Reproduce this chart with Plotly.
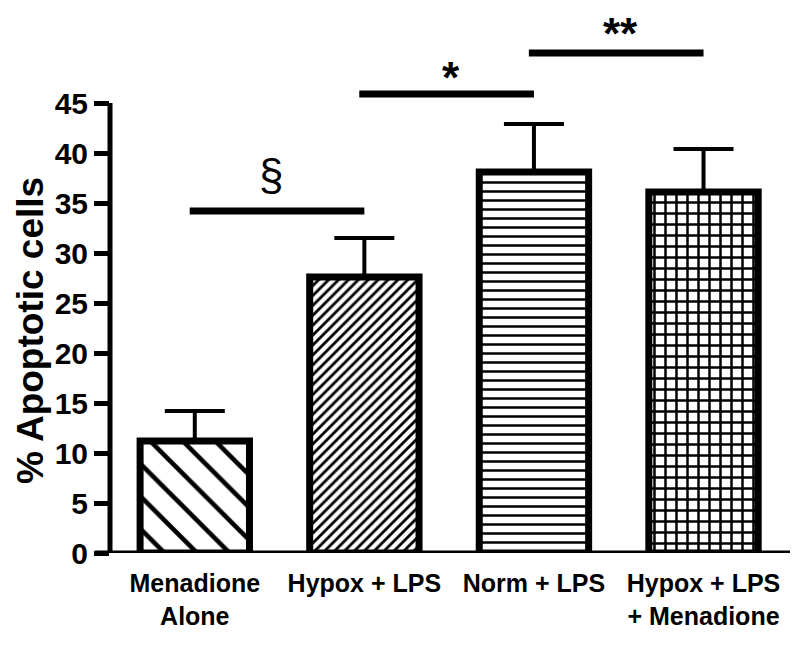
import plotly.graph_objects as go

# data
groups = ["Menadione<br>Alone", "Hypox + LPS", "Norm + LPS", "Hypox + LPS<br>+ Menadione"]
apoptotic = [11.2, 27.6, 38.1, 36.1]
sem = [3.0, 3.9, 4.8, 4.3]
hatch = ["\\", "/", "-", "+"]
hatch_size = [23, 7, 9, 11]
hatch_solid = [0.2, 0.4, 0.28, 0.4]

# significance brackets: from bar, to bar, line height, label, label height
sig_from = [0, 1, 2]
sig_to = [1, 2, 3]
sig_y = [34.2, 45.9, 50.0]
sig_text = ["§", "*", "**"]
sig_label_y = [37.9, 47.5, 52.0]

yticks = list(range(0, 50, 5))
YTOP = 51

FONT = "Liberation Sans, Arial, sans-serif"

fig = go.Figure()
x = list(range(len(groups)))
fig.add_trace(go.Bar(
    x=x, y=apoptotic, width=0.645,
    marker=dict(
        color="white",
        line=dict(color="black", width=7),
        pattern=dict(shape=hatch, size=hatch_size, solidity=hatch_solid,
                     fgcolor="black", bgcolor="white", fillmode="replace"),
    ),
    error_y=dict(type="data", symmetric=False, array=sem, arrayminus=[0]*len(sem),
                 color="black", thickness=4, width=30),
    showlegend=False,
))

shapes = [
    # axis lines
    dict(type="line", xref="paper", yref="y", x0=0, x1=0, y0=0, y1=45,
         line=dict(color="black", width=5)),
    dict(type="line", xref="paper", yref="y", x0=-0.022, x1=1, y0=0, y1=0,
         line=dict(color="black", width=5)),
]
annotations = []
for a, b, h, t, ty in zip(sig_from, sig_to, sig_y, sig_text, sig_label_y):
    shapes.append(dict(type="line", xref="x", yref="y", x0=a - 0.03, x1=b + 0.0, y0=h, y1=h,
                       line=dict(color="black", width=7)))
    # labels go through paper coords so the one above the axis range is still drawn
    if t == "§":
        annotations.append(dict(x=(a + b) / 2 - 0.05, y=ty / YTOP, xref="x", yref="paper", text=t,
                                showarrow=False, yanchor="middle",
                                font=dict(family=FONT, size=44, color="black")))
    else:
        annotations.append(dict(x=(a + b) / 2 + 0.01, y=ty / YTOP, xref="x", yref="paper",
                                text="<b>" + t + "</b>", showarrow=False, yanchor="middle",
                                font=dict(family=FONT, size=44, color="black")))

annotations.append(dict(x=-0.118, y=0.437, xref="paper", yref="paper", text="<b>% Apoptotic cells</b>",
                        textangle=-90, showarrow=False, xanchor="center", yanchor="middle",
                        font=dict(family=FONT, size=37, color="black")))

fig.update_layout(
    width=792, height=639,
    margin=dict(l=102, r=10, t=35, b=94),
    plot_bgcolor="white", paper_bgcolor="white",
    shapes=shapes, annotations=annotations,
    xaxis=dict(range=[-0.5, 3.51], tickvals=x, ticktext=["<b>" + g + "</b>" for g in groups],
               showline=False, showgrid=False, zeroline=False,
               ticks="outside", ticklen=8, tickcolor="rgba(0,0,0,0)",
               tickfont=dict(family=FONT, size=25, color="black")),
    yaxis=dict(range=[0, YTOP], tickvals=yticks, showline=False, showgrid=False, zeroline=False,
               ticks="outside", ticklen=15, tickwidth=5, tickcolor="black",
               tickfont=dict(family=FONT, size=30, color="black", weight="bold")),
)

fig.write_html("out.html")
